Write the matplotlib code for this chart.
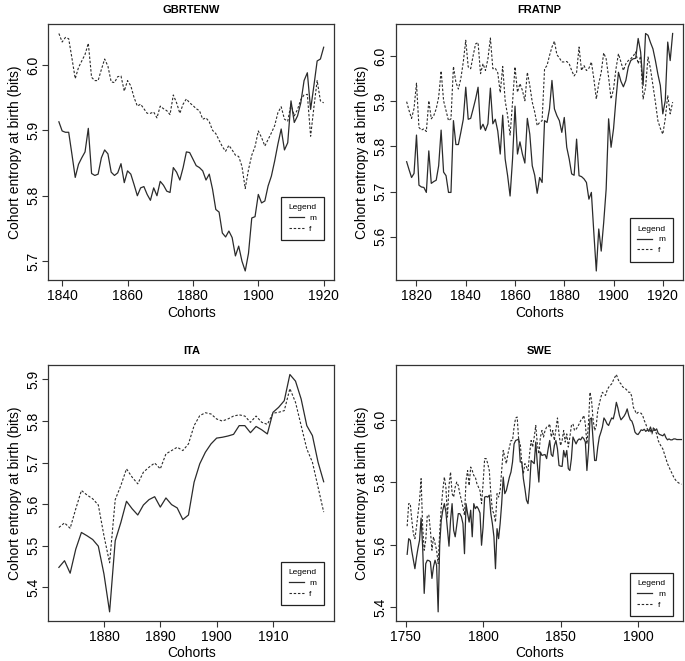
import numpy as np
import matplotlib
matplotlib.use('Agg')
import matplotlib.pyplot as plt

plt.rcParams['font.family'] = ['Liberation Sans', 'DejaVu Sans']

# cohort entropy at birth (bits)
gbr_years = np.arange(1839, 1921)
gbr_m = [5.913, 5.899, 5.897, 5.897, 5.863, 5.828, 5.848, 5.858, 5.867, 5.903,
         5.834, 5.831, 5.833, 5.858, 5.870, 5.864, 5.836, 5.831, 5.835, 5.849,
         5.820, 5.838, 5.833, 5.817, 5.800, 5.812, 5.814, 5.802, 5.793, 5.812,
         5.800, 5.822, 5.816, 5.807, 5.805, 5.843, 5.836, 5.824, 5.843, 5.867, 5.866,
         5.856, 5.846, 5.843, 5.838, 5.824, 5.833, 5.810, 5.779, 5.775, 5.743,
         5.737, 5.746, 5.736, 5.708, 5.723, 5.700, 5.685, 5.712, 5.766, 5.768,
         5.802, 5.789, 5.792, 5.815, 5.830, 5.853, 5.879, 5.902, 5.870, 5.881,
         5.945, 5.912, 5.922, 5.942, 5.976, 5.988, 5.932, 5.968, 6.006, 6.009, 6.027]
gbr_f = [6.048, 6.035, 6.042, 6.040, 6.010, 5.979, 5.996, 6.006, 6.016, 6.033,
         5.981, 5.976, 5.976, 5.993, 6.009, 5.998, 5.974, 5.973, 5.982, 5.983,
         5.960, 5.976, 5.968, 5.950, 5.937, 5.940, 5.933, 5.926, 5.926, 5.928,
         5.919, 5.937, 5.933, 5.930, 5.924, 5.954, 5.942, 5.926, 5.940, 5.948, 5.942,
         5.938, 5.933, 5.930, 5.917, 5.919, 5.913, 5.900, 5.895, 5.885, 5.875,
         5.868, 5.877, 5.870, 5.862, 5.860, 5.845, 5.811, 5.840, 5.862, 5.875,
         5.899, 5.889, 5.876, 5.886, 5.896, 5.907, 5.927, 5.936, 5.917, 5.914,
         5.940, 5.922, 5.932, 5.947, 5.954, 5.955, 5.891, 5.935, 5.976, 5.945, 5.942]

fra_years = np.arange(1816, 1925)
fra_m = [5.766, 5.748, 5.731, 5.740, 5.825, 5.714, 5.710, 5.709, 5.698, 5.790,
         5.718, 5.722, 5.725, 5.757, 5.836, 5.743, 5.735, 5.698, 5.698, 5.857,
         5.804, 5.804, 5.831, 5.860, 5.931, 5.860, 5.862, 5.883, 5.905, 5.931,
         5.838, 5.849, 5.835, 5.850, 5.929, 5.850, 5.860, 5.834, 5.783, 5.869,
         5.772, 5.735, 5.690, 5.772, 5.889, 5.783, 5.810, 5.783, 5.763, 5.862,
         5.827, 5.757, 5.736, 5.696, 5.731, 5.720,
         5.857, 5.853, 5.883, 5.946, 5.883, 5.868, 5.857, 5.831, 5.864, 5.798,
         5.772, 5.739, 5.736, 5.816, 5.735, 5.733, 5.728, 5.720, 5.683, 5.698,
         5.609, 5.524, 5.617, 5.568, 5.631, 5.705, 5.861, 5.798, 5.839, 5.905,
         5.964, 5.944, 5.932, 5.946, 5.976, 5.990, 5.994, 5.995, 6.039, 6.009,
         5.935, 6.050, 6.046, 6.030, 6.016, 5.990, 5.960, 5.935, 5.872, 5.901,
         6.031, 5.990, 6.050]
fra_f = [5.899, 5.879, 5.862, 5.884, 5.940, 5.842, 5.836, 5.839, 5.833, 5.901,
         5.861, 5.868, 5.883, 5.909, 5.967, 5.901, 5.879, 5.857, 5.861, 5.977,
         5.942, 5.927, 5.950, 5.987, 6.035, 5.976, 5.972, 6.001, 6.027, 6.030,
         5.961, 5.983, 5.968, 5.994, 6.040, 5.972, 5.973, 5.963, 5.919, 5.977,
         5.901, 5.868, 5.825, 5.898, 5.976, 5.920, 5.939, 5.924, 5.901, 5.964,
         5.935, 5.898, 5.876, 5.846, 5.853,
         5.857, 5.972, 5.979, 6.001, 6.020, 6.033, 6.003, 5.996, 5.987, 5.987,
         5.988, 5.983, 5.968, 5.956, 5.964, 6.020, 5.968, 5.979, 5.968, 5.973,
         5.987, 5.950, 5.905, 5.939, 5.964, 6.007, 5.994, 5.953, 5.905, 5.927,
         5.972, 6.005, 5.987, 5.968, 5.983, 5.990, 5.994, 6.000, 6.009, 5.983,
         6.000, 5.905, 5.930, 5.998, 5.972, 5.935, 5.898, 5.857, 5.840, 5.827,
         5.861, 5.913, 5.872, 5.898]

ita_years = np.arange(1872, 1920)
ita_m = [5.448, 5.464, 5.434, 5.492, 5.532, 5.524, 5.515, 5.499, 5.432, 5.341,
         5.512, 5.556, 5.607, 5.589, 5.574, 5.598, 5.611, 5.618, 5.593, 5.615,
         5.599, 5.591, 5.563, 5.574, 5.653, 5.697, 5.725, 5.745, 5.759, 5.761,
         5.764, 5.768, 5.789, 5.789, 5.772, 5.787, 5.779, 5.769, 5.821, 5.833,
         5.849, 5.912, 5.896, 5.853, 5.789, 5.765, 5.701, 5.654]
ita_f = [5.544, 5.555, 5.542, 5.589, 5.633, 5.622, 5.613, 5.598, 5.524, 5.459,
         5.611, 5.645, 5.685, 5.665, 5.649, 5.677, 5.689, 5.699, 5.685, 5.721,
         5.729, 5.737, 5.729, 5.745, 5.789, 5.813, 5.820, 5.817, 5.805, 5.800,
         5.805, 5.812, 5.815, 5.812, 5.797, 5.812, 5.797, 5.792, 5.819, 5.821,
         5.825, 5.878, 5.845, 5.789, 5.733, 5.701, 5.641, 5.581]

swe_years = np.arange(1751, 1929)
swe_m = [5.570, 5.620, 5.615, 5.580, 5.551, 5.524, 5.560, 5.590, 5.615, 5.686,
         5.594, 5.445, 5.540, 5.551, 5.550, 5.546, 5.493, 5.530, 5.551, 5.535,
         5.386, 5.600, 5.679, 5.711, 5.732, 5.705, 5.650, 5.596, 5.679, 5.732,
         5.647, 5.626, 5.663, 5.700, 5.700, 5.690, 5.668, 5.572, 5.732, 5.700,
         5.673, 5.711, 5.626, 5.732, 5.716, 5.723, 5.715, 5.702, 5.599, 5.657,
         5.753, 5.755, 5.753, 5.759, 5.700, 5.668, 5.626, 5.524, 5.652, 5.620,
         5.668, 5.732, 5.817, 5.764, 5.774, 5.796, 5.817, 5.833, 5.865, 5.923,
         5.934, 5.936, 5.939, 5.865, 5.865, 5.812, 5.780, 5.743, 5.732, 5.785,
         5.870, 5.865, 5.860, 5.929, 5.860, 5.801, 5.897, 5.886, 5.888, 5.889,
         5.876, 5.907, 5.934, 5.889, 5.883, 5.918, 5.934, 5.907, 5.854, 5.852,
         5.851, 5.902, 5.881, 5.902, 5.844, 5.838, 5.876, 5.945, 5.934, 5.923,
         5.934, 5.939, 5.936, 5.945, 5.940, 5.929, 5.838, 5.902, 6.003, 6.006,
         5.934, 5.870, 5.870, 5.913, 5.945, 5.960, 5.977, 6.006, 5.998, 5.987,
         5.982, 5.995, 6.006, 6.003, 6.024, 6.056, 6.038, 6.014, 6.000, 6.006,
         6.012, 6.021, 6.035, 6.014, 6.000, 5.996, 5.982, 5.961, 5.955, 5.953,
         5.960, 5.968, 5.966, 5.970, 5.963, 5.968, 5.963, 5.977, 5.961, 5.968,
         5.966, 5.971, 5.957, 5.953, 5.951, 5.949, 5.955, 5.943, 5.936, 5.939,
         5.936, 5.936, 5.939, 5.939, 5.937, 5.937, 5.937, 5.937]
swe_f = [5.660, 5.732, 5.732, 5.680, 5.636, 5.620, 5.657, 5.700, 5.743, 5.812,
         5.657, 5.583, 5.615, 5.695, 5.695, 5.647, 5.583, 5.626, 5.604, 5.583,
         5.540, 5.640, 5.720, 5.774, 5.817, 5.785, 5.689, 5.790, 5.833, 5.764,
         5.753, 5.785, 5.801, 5.790, 5.764, 5.743, 5.720, 5.695, 5.806, 5.838,
         5.790, 5.849, 5.838, 5.822, 5.817, 5.796, 5.785, 5.774, 5.732, 5.796,
         5.876, 5.876, 5.860, 5.838, 5.764, 5.711, 5.700, 5.673, 5.764, 5.753,
         5.774, 5.838, 5.902, 5.881, 5.860, 5.891, 5.913, 5.934, 5.934, 5.977,
         6.006, 6.009, 5.934, 5.923, 5.860, 5.828, 5.860, 5.850, 5.838, 5.891,
         5.934, 5.913, 5.945, 5.982, 5.923, 5.891, 5.945, 5.966, 5.945, 5.966,
         5.977, 5.977, 5.987, 5.945, 5.966, 5.934, 5.971, 6.006, 5.955, 5.918,
         5.934, 5.966, 5.929, 5.955, 5.913, 5.945, 5.982, 5.987, 5.966, 5.970,
         5.977, 5.987, 5.998, 6.003, 6.014, 5.987, 5.923, 5.987, 6.088, 6.062,
         6.000, 5.966, 5.980, 6.030, 6.051, 6.072, 6.088, 6.083, 6.078, 6.094,
         6.104, 6.110, 6.115, 6.126, 6.136, 6.145, 6.131, 6.120, 6.115, 6.106,
         6.102, 6.099, 6.094, 6.088, 6.088, 6.074, 6.040, 6.030, 6.019, 6.024,
         6.022, 6.021, 6.014, 5.998, 5.987, 5.971, 5.966, 5.966, 5.955, 5.977,
         5.966, 5.955, 5.934, 5.923, 5.915, 5.907, 5.891, 5.876, 5.860, 5.849,
         5.838, 5.828, 5.817, 5.809, 5.803, 5.799, 5.796, 5.794]

line_col = '#2b2b2b'


def panel(ax, title, years, male, female, xticks, yticks, leg_pos, xlim=None):
    ax.plot(years, male, color=line_col, lw=0.9, ls='-', label='m')
    ax.plot(years, female, color=line_col, lw=0.8, ls=(0, (2.2, 1.6)), label='f')
    ax.margins(x=0.04, y=0.04)
    if xlim is not None:
        ax.set_xlim(xlim)
    ax.set_xticks(xticks)
    ax.set_yticks(yticks)
    ax.set_yticklabels(['%.1f' % v for v in yticks], rotation=90, va='center')
    ax.tick_params(labelsize=10, length=4, width=0.8, color='#333333', pad=2)
    ax.set_title(title, fontsize=8, fontweight='bold', pad=8)
    ax.set_xlabel('Cohorts', fontsize=10, labelpad=2)
    ax.set_ylabel('Cohort entropy at birth (bits)', fontsize=10, labelpad=3)
    for sp in ax.spines.values():
        sp.set_linewidth(0.9)
        sp.set_color('#333333')
    leg = ax.legend(title='Legend', loc='lower right', bbox_to_anchor=leg_pos,
                    fontsize=6, title_fontsize=6, fancybox=False,
                    edgecolor='#222222', framealpha=1, handlelength=1.8,
                    handletextpad=0.7, borderpad=0.9, labelspacing=0.35,
                    borderaxespad=0)
    leg.get_frame().set_linewidth(0.9)


fig = plt.figure(figsize=(6.85, 6.61), dpi=100)
ax1 = fig.add_axes([0.0705, 0.5757, 0.4175, 0.3880])
ax2 = fig.add_axes([0.5781, 0.5757, 0.4194, 0.3880])
ax3 = fig.add_axes([0.0705, 0.0600, 0.4175, 0.3878])
ax4 = fig.add_axes([0.5781, 0.0600, 0.4194, 0.3878])

panel(ax1, 'GBRTENW', gbr_years, gbr_m, gbr_f, [1840, 1860, 1880, 1900, 1920],
      [5.7, 5.8, 5.9, 6.0], (0.964, 0.156))
panel(ax2, 'FRATNP', fra_years, fra_m, fra_f, [1820, 1840, 1860, 1880, 1900, 1920],
      [5.6, 5.7, 5.8, 5.9, 6.0], (0.964, 0.073))
panel(ax3, 'ITA', ita_years, ita_m, ita_f, [1880, 1890, 1900, 1910],
      [5.4, 5.5, 5.6, 5.7, 5.8, 5.9], (0.964, 0.063))
panel(ax4, 'SWE', swe_years, swe_m, swe_f, [1750, 1800, 1850, 1900],
      [5.4, 5.6, 5.8, 6.0], (0.964, 0.02), xlim=(1743.8, 1929.2))

fig.savefig('out.png', dpi=100)
